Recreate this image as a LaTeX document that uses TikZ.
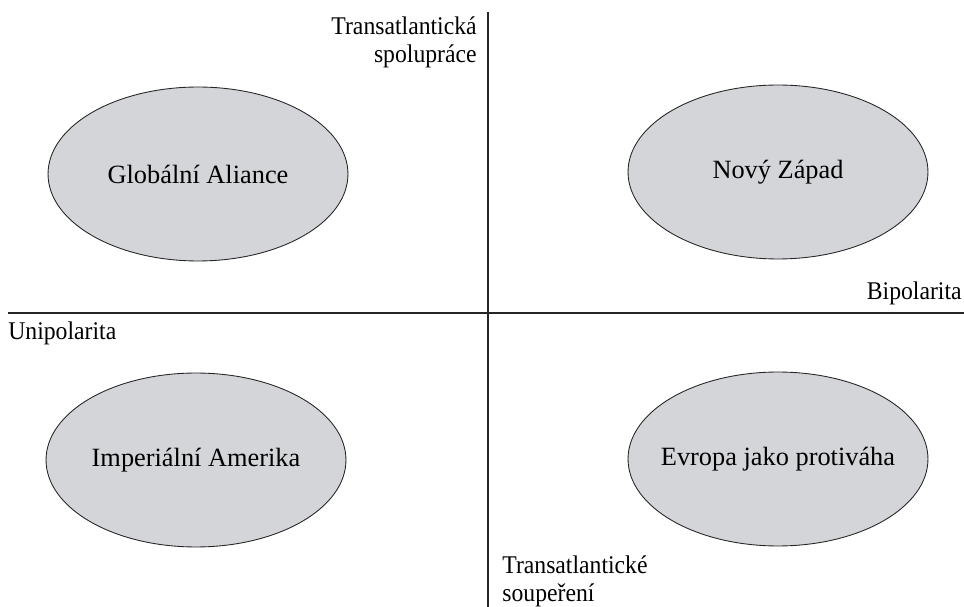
\documentclass[tikz,border=0pt]{standalone}
\usepackage{fontspec}
\setmainfont{Liberation Serif}
\newfontfamily\axfont[FakeStretch=0.93]{Liberation Serif}
\usetikzlibrary{positioning, shapes.geometric}
\definecolor{quadgray}{RGB}{212,213,216}

\begin{document}
\begin{tikzpicture}[x=0.02cm, y=-0.02cm,
      scen/.style={ellipse, draw=black!85, line width=0.5pt, fill=quadgray,
        minimum width=6cm, minimum height=3.48cm, inner ysep=0pt, inner xsep=-1cm,
        font=\fontsize{15}{18}\selectfont},
      axlabel/.style={inner sep=0pt, font=\axfont\fontsize{14.5}{16}\selectfont},
      axisline/.style={line width=0.9pt, black!85}
    ]
    \useasboundingbox (0,0) rectangle (964,607);

    % axes
    \coordinate (ytop) at (488,12);
    \coordinate (ybot) at (488,607);
    \coordinate (xleft) at (8,313);
    \coordinate (xright) at (964,313);
    \draw[axisline] (ytop) -- (ybot);
    \draw[axisline] (xleft) -- (xright);

    % scenarios
    \node[scen] (alliance) at (198,174) {Globální Aliance};
    \node[scen] (newwest) at (778,172) {Nový Západ};
    \node[scen] (empire) at (196,460) {Imperiální Amerika};
    \node[scen] (counter) at (778,459) {Evropa jako protiváha};

    % axis labels
    \node[axlabel, anchor=north east, align=right] (coop) at (477,16) {Transatlantická\\spolupráce};
    \node[axlabel, anchor=base east] (bipol) at (962,300) {Bipolarita};
    \node[axlabel, anchor=base west] (unipol) at (8,340) {Unipolarita};
    \node[axlabel, anchor=north west, align=left] (rival) at (502,555) {Transatlantické\\soupeření};
  \end{tikzpicture}
\end{document}
